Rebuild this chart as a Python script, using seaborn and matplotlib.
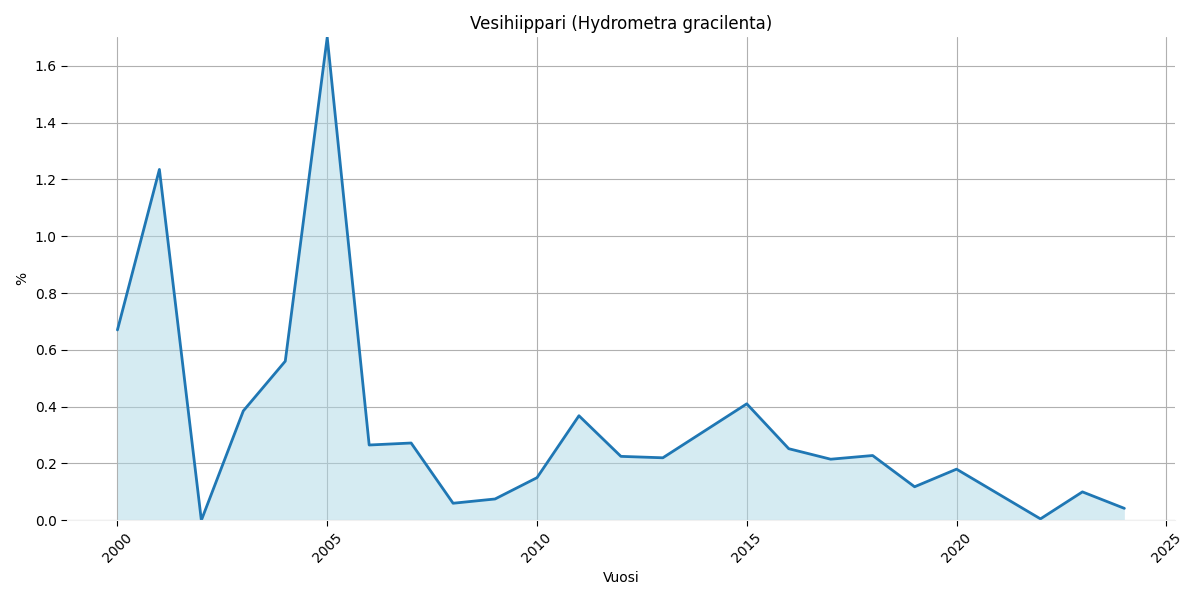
import matplotlib
matplotlib.use("Agg")
import matplotlib.pyplot as plt
import seaborn as sns
import numpy as np
import pandas as pd

years = [2000, 2001, 2002, 2003, 2004, 2005, 2006, 2007, 2008, 2009, 2010, 2011, 2012,
         2013, 2015, 2016, 2017, 2018, 2019, 2020, 2022, 2023, 2024]
values = [0.67, 1.235, 0.0, 0.385, 0.56, 1.70, 0.265, 0.272, 0.06, 0.075, 0.15, 0.368, 0.225,
          0.22, 0.41, 0.252, 0.215, 0.228, 0.118, 0.18, 0.005, 0.1, 0.042]

df = pd.DataFrame({"Vuosi": years, "%": values})

sns.set_style("white", {"text.color": "black", "axes.labelcolor": "black",
                        "xtick.color": "black", "ytick.color": "black"})
plt.rcParams['font.family'] = ['DejaVu Sans']
fig, ax = plt.subplots(figsize=(12, 6), dpi=100)
ax.fill_between(df["Vuosi"], df["%"], color="lightblue", alpha=0.5, linewidth=0)
sns.lineplot(data=df, x="Vuosi", y="%", ax=ax, color="#1f77b4", linewidth=2)
ax.set_ylim(0, max(values))
ax.grid(True, color="#b0b0b0", linewidth=0.8)
ax.set_axisbelow(True)
for s in ["top", "right", "left"]:
    ax.spines[s].set_visible(False)
ax.spines["bottom"].set_color("#f0f0f0")
ax.tick_params(axis="both", which="both", length=4, color="black", labelcolor="black",
               left=True, bottom=True)
plt.setp(ax.get_xticklabels(), rotation=45)
ax.set_title("Vesihiippari (Hydrometra gracilenta)", color="black")
ax.set_xlabel("Vuosi", color="black")
ax.set_ylabel("%", color="black")
fig.tight_layout()
fig.savefig("out.png")
